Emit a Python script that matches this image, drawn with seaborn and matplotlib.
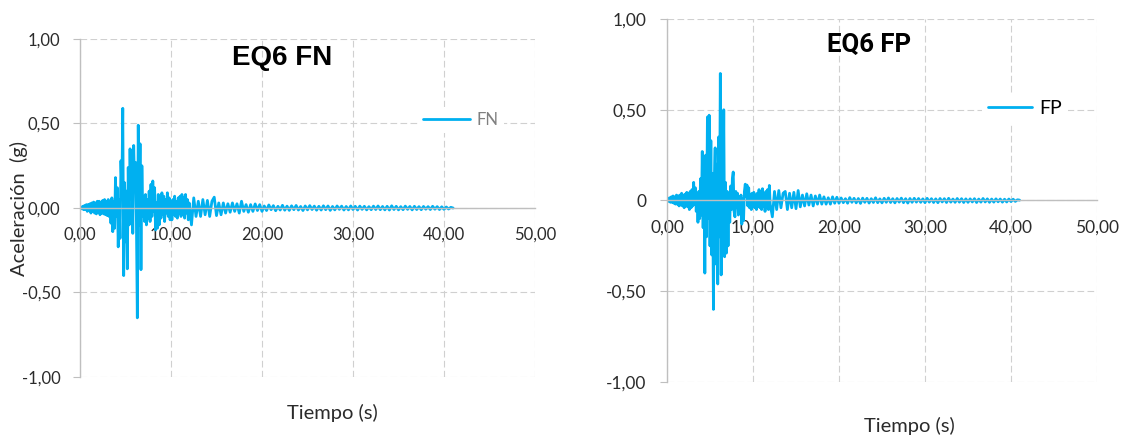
import numpy as np
import matplotlib
matplotlib.use("Agg")
import matplotlib.pyplot as plt
import seaborn as sns

# ---------------------------------------------------------------- data
# record time stamps (s): 0.1 s steps through the strong motion, 0.25 s afterwards
time_s = [
    0.0, 0.1, 0.2, 0.3, 0.4, 0.5, 0.6, 0.7, 0.8, 0.9,
    1.0, 1.1, 1.2, 1.3, 1.4, 1.5, 1.6, 1.7, 1.8, 1.9,
    2.0, 2.1, 2.2, 2.3, 2.4, 2.5, 2.6, 2.7, 2.8, 2.9,
    3.0, 3.1, 3.2, 3.3, 3.4, 3.5, 3.6, 3.7, 3.8, 3.9,
    4.0, 4.1, 4.2, 4.3, 4.4, 4.5, 4.6, 4.7, 4.8, 4.9,
    5.0, 5.1, 5.2, 5.3, 5.4, 5.5, 5.6, 5.7, 5.8, 5.9,
    6.0, 6.1, 6.2, 6.3, 6.4, 6.5, 6.6, 6.7, 6.8, 6.9,
    7.0, 7.1, 7.2, 7.3, 7.4, 7.5, 7.6, 7.7, 7.8, 7.9,
    8.0, 8.1, 8.2, 8.3, 8.4, 8.5, 8.6, 8.7, 8.8, 8.9,
    9.0, 9.1, 9.2, 9.3, 9.4, 9.5, 9.6, 9.7, 9.8, 9.9,
    10.0, 10.1, 10.2, 10.3, 10.4, 10.5, 10.6, 10.7, 10.8, 10.9,
    11.0, 11.1, 11.2, 11.3, 11.4, 11.5, 11.6, 11.7, 11.8, 11.9,
    12.0,
    12.25, 12.5, 12.75, 13.0, 13.25, 13.5, 13.75, 14.0, 14.25, 14.5, 14.75, 15.0,
    15.25, 15.5, 15.75, 16.0, 16.25, 16.5, 16.75, 17.0, 17.25, 17.5, 17.75, 18.0,
    18.25, 18.5, 18.75, 19.0, 19.25, 19.5, 19.75, 20.0, 20.25, 20.5, 20.75, 21.0,
    21.25, 21.5, 21.75, 22.0, 22.25, 22.5, 22.75, 23.0, 23.25, 23.5, 23.75, 24.0,
    24.25, 24.5, 24.75, 25.0, 25.25, 25.5, 25.75, 26.0, 26.25, 26.5, 26.75, 27.0,
    27.25, 27.5, 27.75, 28.0, 28.25, 28.5, 28.75, 29.0, 29.25, 29.5, 29.75, 30.0,
    30.25, 30.5, 30.75, 31.0, 31.25, 31.5, 31.75, 32.0, 32.25, 32.5, 32.75, 33.0,
    33.25, 33.5, 33.75, 34.0, 34.25, 34.5, 34.75, 35.0, 35.25, 35.5, 35.75, 36.0,
    36.25, 36.5, 36.75, 37.0, 37.25, 37.5, 37.75, 38.0, 38.25, 38.5, 38.75, 39.0,
    39.25, 39.5, 39.75, 40.0, 40.25, 40.5, 40.75, 41.0,
]

# fault-normal component (g)
fn_g = [
    0.00, 0.005, -0.005, 0.01, -0.01, 0.015, -0.01, 0.02, -0.02, 0.02,
    -0.015, 0.025, -0.03, 0.03, -0.02, 0.035, -0.03, 0.03, -0.035, 0.04,
    -0.025, 0.04, -0.04, 0.035, -0.03, 0.045, -0.035, 0.05, -0.04, 0.04,
    -0.045, 0.05, -0.05, 0.03, -0.09, 0.06, -0.14, 0.04, -0.12, 0.18,
    -0.05, 0.12, -0.23, 0.05, -0.18, 0.28, 0.10, 0.59, -0.40, 0.15,
    -0.20, 0.10, -0.36, 0.24, -0.10, 0.35, 0.05, 0.34, -0.15, 0.37,
    0.12, 0.27, -0.08, -0.65, 0.49, -0.10, 0.38, -0.365, 0.25, -0.05,
    0.07, -0.08, 0.08, -0.10, 0.05, -0.06, 0.10, -0.08, 0.14, -0.05,
    0.16, -0.02, 0.12, -0.13, 0.03, -0.12, 0.08, -0.10, 0.06, -0.06,
    0.09, -0.04, 0.07, -0.08, 0.05, -0.03, 0.09, -0.05, 0.06, -0.07,
    0.04, -0.07, 0.05, -0.04, 0.07, -0.05, 0.04, -0.06, 0.06, -0.03,
    0.07, -0.05, 0.08, -0.04, 0.06, -0.06, 0.08, -0.03, 0.05, -0.07,
    0.03,
    -0.10, 0.06, -0.05, 0.04, -0.05, 0.05, -0.04, 0.045, -0.05, 0.04, 0.064, -0.045,
    0.03, -0.04, 0.03, -0.03, 0.025, -0.025, 0.03, -0.02, 0.025, -0.03, 0.04, -0.02,
    0.02, -0.025, 0.02, -0.02, 0.024, -0.015, 0.02, -0.02,
    0.012, -0.015, 0.018, -0.010, 0.014, -0.016, 0.010, -0.012, 0.016, -0.013, 0.011, -0.014,
    0.013, -0.010, 0.015, -0.012, 0.009, -0.015, 0.012, -0.011, 0.014, -0.009, 0.011, -0.013,
    0.010, -0.012, 0.013, -0.010, 0.012, -0.014, 0.009, -0.011, 0.012, -0.008, 0.011, -0.012,
    0.009, -0.011, 0.012, -0.009, 0.010, -0.012, 0.011, -0.008, 0.010, -0.011, 0.008, -0.010,
    0.011, -0.009, 0.012, -0.010, 0.009, -0.011, 0.010, -0.012, 0.013, -0.009, 0.010, -0.011,
    0.008, -0.010, 0.011, -0.008, 0.009, -0.011, 0.010, -0.009, 0.008, -0.010, 0.009, -0.007,
    0.008, -0.009, 0.010, -0.007, 0.008, -0.009, 0.007, -0.008, 0.006, -0.006, 0.004, 0.000,
]

# fault-parallel component (g)
fp_g = [
    0.00, 0.01, -0.005, 0.015, -0.01, 0.02, -0.01, 0.025, -0.015, 0.02,
    -0.02, 0.03, -0.02, 0.025, -0.03, 0.03, -0.025, 0.04, -0.03, 0.03,
    -0.04, 0.035, -0.03, 0.045, -0.035, 0.04, -0.05, 0.05, -0.04, 0.06,
    -0.03, 0.10, -0.02, 0.07, -0.06, 0.04, -0.12, 0.05, -0.10, 0.12,
    -0.08, 0.27, -0.15, 0.20, -0.40, 0.25, -0.20, 0.46, -0.10, 0.47,
    -0.25, 0.33, -0.30, 0.15, -0.60, 0.10, 0.29, -0.35, 0.20, -0.46,
    0.35, -0.20, 0.70, -0.41, 0.45, -0.15, 0.50, -0.31, 0.10, -0.29,
    0.05, -0.25, 0.03, -0.12, 0.08, -0.05, 0.12, 0.157, -0.06, -0.09,
    0.05, -0.04, 0.04, -0.08, 0.02, -0.07, 0.03, -0.13, 0.01, -0.11,
    0.05, 0.09, 0.02, 0.085, -0.03, 0.07, -0.04, 0.035, -0.05, 0.04,
    -0.03, 0.045, -0.04, 0.03, -0.05, 0.04, -0.03, 0.06, -0.04, 0.05,
    -0.05, 0.065, -0.03, 0.04, -0.06, 0.05, -0.04, 0.06, -0.05, 0.083,
    -0.02,
    -0.09, 0.05, -0.05, 0.055, -0.04, 0.04, 0.05, -0.05, 0.04, -0.04, 0.045, -0.045,
    0.055, -0.035, 0.03, -0.03, 0.037, -0.025, 0.03, -0.03, 0.025, -0.02, 0.03, -0.02,
    0.02, -0.02, 0.015, -0.02, 0.02, -0.015, 0.018, -0.015,
    0.014, -0.012, 0.010, -0.015, 0.016, -0.010, 0.012, -0.013, 0.011, -0.016, 0.013, -0.010,
    0.012, -0.014, 0.010, -0.011, 0.015, -0.012, 0.009, -0.013, 0.012, -0.010, 0.014, -0.011,
    0.010, -0.013, 0.011, -0.009, 0.013, -0.012, 0.010, -0.014, 0.011, -0.010, 0.012, -0.009,
    0.011, -0.010, 0.009, -0.012, 0.012, -0.009, 0.010, -0.011, 0.009, -0.012, 0.011, -0.008,
    0.010, -0.011, 0.012, -0.009, 0.008, -0.010, 0.011, -0.009, 0.010, -0.011, 0.009, -0.010,
    0.009, -0.008, 0.010, -0.011, 0.008, -0.009, 0.011, -0.008, 0.009, -0.010, 0.008, -0.009,
    0.009, -0.007, 0.008, -0.009, 0.007, -0.008, 0.008, -0.006, 0.007, -0.005, 0.004, 0.002,
]

x_ticks = [0, 10, 20, 30, 40, 50]
x_tick_labels = ["0,00", "10,00", "20,00", "30,00", "40,00", "50,00"]
y_ticks = [-1.0, -0.5, 0.0, 0.5, 1.0]
y_tick_labels_fn = ["-1,00", "-0,50", "0,00", "0,50", "1,00"]
y_tick_labels_fp = ["-1,00", "-0,50", "0", "0,50", "1,00"]

# ---------------------------------------------------------------- style
sns.set_theme(style="white")
plt.rcParams["font.family"] = ["Lato", "DejaVu Sans"]

LINE_BLUE = "#00B0F0"
AXIS_GREY = "#bfbfbf"
GRID_GREY = "#d0d0d0"
TEXT = "#2b2b2b"

W, H = 1135, 436
fig = plt.figure(figsize=(W / 100, H / 100), dpi=100)
fig.patch.set_facecolor("white")


def px_box(x0, y0, x1, y1):
    """Axes rectangle given in pixel corners (top-left origin)."""
    return [x0 / W, 1 - y1 / H, (x1 - x0) / W, (y1 - y0) / H]


ax1 = fig.add_axes(px_box(80, 39, 535, 377))
ax2 = fig.add_axes(px_box(667, 19, 1097, 382))


def style_axes(ax, ylabels, tick_size, ypad):
    ax.set_xlim(0, 50)
    ax.set_ylim(-1, 1)
    ax.set_xticks(x_ticks)
    ax.set_xticklabels(x_tick_labels)
    ax.set_yticks(y_ticks)
    ax.set_yticklabels(ylabels)
    ax.grid(True, color=GRID_GREY, linestyle=(0, (6, 3)), linewidth=0.8)
    ax.set_axisbelow(True)
    for side in ("top", "right"):
        ax.spines[side].set_visible(False)
    ax.spines["left"].set_color(AXIS_GREY)
    ax.spines["left"].set_linewidth(1.0)
    ax.spines["bottom"].set_position(("data", 0))
    ax.spines["bottom"].set_color(AXIS_GREY)
    ax.spines["bottom"].set_linewidth(1.0)
    ax.tick_params(axis="x", length=0, pad=13.5, labelsize=tick_size, labelcolor=TEXT)
    ax.tick_params(axis="y", length=5, width=0.8, color=AXIS_GREY, pad=ypad,
                   labelsize=tick_size, labelcolor=TEXT, left=True)
    ax.set_facecolor("white")


# ---------------------------------------------------------------- FN panel
sns.lineplot(x=time_s, y=fn_g, ax=ax1, color=LINE_BLUE, linewidth=2.0,
             estimator=None, sort=False)
style_axes(ax1, y_tick_labels_fn, 12, 9)
ax1.set_xlabel("Tiempo (s)", fontsize=14.5, color=TEXT)
ax1.xaxis.set_label_coords((332 - 80) / 455, (377 - 413) / 338)
ax1.xaxis.label.set_va("center")
ax1.set_ylabel("Aceleración  (g)", fontsize=14.5, color=TEXT)
ax1.yaxis.set_label_coords((19 - 80) / 455, 0.5)
ax1.yaxis.label.set_va("center")
ax1.legend(handles=[ax1.lines[0]], labels=["FN"], loc="center left",
           bbox_to_anchor=(418 / W, 1 - 120 / H), bbox_transform=fig.transFigure,
           frameon=True, facecolor="white", edgecolor="none", framealpha=1,
           fancybox=False, borderpad=0.3, borderaxespad=0, handlelength=2.8,
           handletextpad=0.42, fontsize=12, labelcolor="#808080")
fig.text(282 / W, 1 - 58 / H, "EQ6 FN", ha="center", va="center", fontsize=20,
         fontweight="bold", family="Liberation Sans", color="black")

# ---------------------------------------------------------------- FP panel
sns.lineplot(x=time_s, y=fp_g, ax=ax2, color=LINE_BLUE, linewidth=2.0,
             estimator=None, sort=False)
style_axes(ax2, y_tick_labels_fp, 12.5, 10)
ax2.set_ylabel("")
ax2.set_xlabel("Tiempo (s)", fontsize=14.5, color=TEXT)
ax2.xaxis.set_label_coords((909 - 667) / 430, (382 - 425.6) / 363)
ax2.xaxis.label.set_va("center")
ax2.legend(handles=[ax2.lines[0]], labels=["FP"], loc="center left",
           bbox_to_anchor=(982 / W, 1 - 108.8 / H), bbox_transform=fig.transFigure,
           frameon=True, facecolor="white", edgecolor="none", framealpha=1,
           fancybox=False, borderpad=0.3, borderaxespad=0, handlelength=2.27,
           handletextpad=0.36, fontsize=14, labelcolor="black")
fig.text(869.5 / W, 1 - 44.8 / H, "EQ6 FP", ha="center", va="center", fontsize=18.5,
         fontweight="bold", family="Roboto", color="black")

fig.savefig("out.png", dpi=100, facecolor="white")
